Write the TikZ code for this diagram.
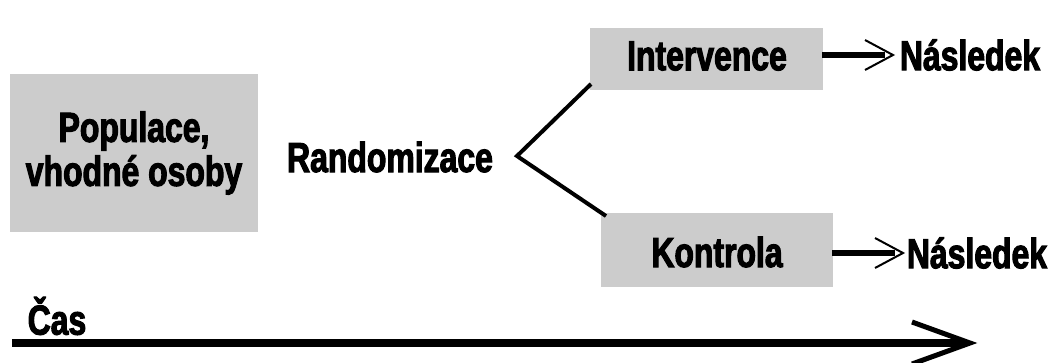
\documentclass[tikz,border=0pt]{standalone}
\usepackage{fontspec}
\newfontfamily\imp{Liberation Sans}[FakeStretch=0.76,FakeBold=2.5]
\begin{document}
\begin{tikzpicture}[x=1pt,y=-1pt,
  txt/.style={font=\imp\bfseries\fontsize{42}{44}\selectfont, inner sep=0pt, align=center},
  graybox/.style={fill=black!20, draw=none},
  thickline/.style={line width=4pt},
  shaft/.style={line width=6pt},
  headline/.style={line width=2pt, line join=miter},
]
\useasboundingbox (0,0) rectangle (1052,362);
% boxes
\path[graybox] (10,74) rectangle (258,232);
\path[graybox] (590,28) rectangle (823,90);
\path[graybox] (601,213) rectangle (833,287);
\coordinate (popc) at (134,153);
\coordinate (intc) at (707,56);
\coordinate (konc) at (717,252);
\node[txt] (pop) at (popc) {Populace,\\vhodné osoby};
\node[txt] (rand) at (390,157) {Randomizace};
\node[txt] (int) at (intc) {Intervence};
\node[txt] (kon) at (konc) {Kontrola};
\node[txt] (n1) at (970,55) {Následek};
\node[txt] (n2) at (977,253) {Následek};
\node[txt] (cas) at (57,316) {Čas};
% branch
\coordinate (v) at (517,156);
\coordinate (bu) at (591,84);
\coordinate (bl) at (606,216);
\draw[thickline, line join=miter] (bu) -- (v) -- (bl);
% small arrows
\coordinate (a1s) at (822,55);
\coordinate (a1t) at (893,55);
\draw[shaft] (a1s) -- ([xshift=-8pt]a1t);
\draw[headline] ([xshift=-28pt,yshift=-15pt]a1t) -- (a1t) -- ([xshift=-28pt,yshift=15pt]a1t);
\coordinate (a2s) at (832,253);
\coordinate (a2t) at (903,253);
\draw[shaft] (a2s) -- ([xshift=-8pt]a2t);
\draw[headline] ([xshift=-28pt,yshift=-15pt]a2t) -- (a2t) -- ([xshift=-28pt,yshift=15pt]a2t);
% time arrow
\coordinate (ts) at (12,343);
\coordinate (tt) at (970,343);
\draw[line width=8pt] (ts) -- ([xshift=-6pt]tt);
\draw[line width=5pt, line join=miter] ([xshift=-58pt,yshift=-21pt]tt) -- (tt) -- ([xshift=-58pt,yshift=21pt]tt);
\end{tikzpicture}
\end{document}
